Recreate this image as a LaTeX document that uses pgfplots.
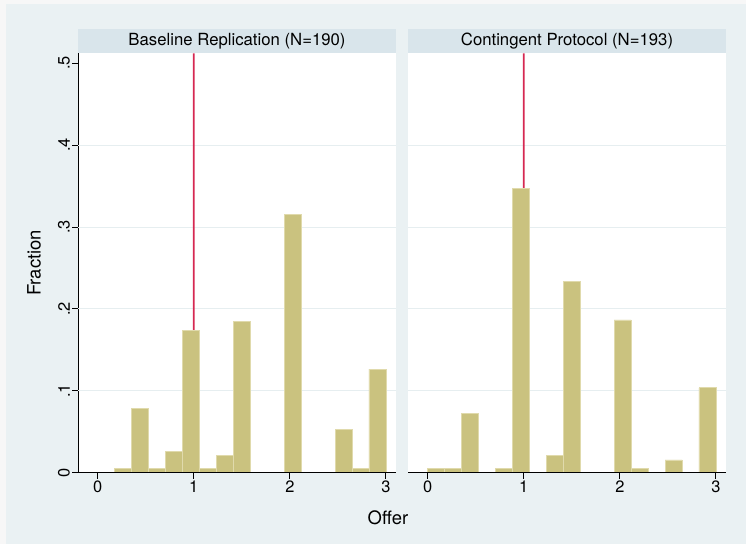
\documentclass[border=0pt]{standalone}
\usepackage{fontspec}
\setmainfont{TeX Gyre Heros}
\usepackage{pgfplots}
\pgfplotsset{compat=1.18}
\definecolor{bgout}{RGB}{247,247,247}
\definecolor{bg}{RGB}{234,241,243}
\definecolor{strip}{RGB}{217,229,235}
\definecolor{khaki}{RGB}{202,194,127}
\definecolor{khakiedge}{RGB}{224,218,172}
\definecolor{vred}{RGB}{214,40,82}
\definecolor{gridc}{RGB}{230,238,240}

\pgfplotsset{
  panel/.style={
    scale only axis, width=318bp, height=419.4bp,
    xmin=-0.205, xmax=3.105, ymin=0, ymax=0.512,
    axis background/.style={fill=white},
    xtick={0,1,2,3}, xticklabels={0,1,2,3},
    extra y ticks={0.1,0.2,0.3,0.4}, extra y tick labels={},
    extra y tick style={grid=major, major tick length=0pt},
    grid style={gridc, line width=0.9bp},
    tick align=outside, major tick length=6bp,
    every tick/.style={black, line width=0.9bp},
    axis line style={black, line width=0.9bp},
    axis x line*=bottom, axis y line*=left,
    tick label style={font=\fontsize{16.5}{18}\selectfont},
    xticklabel style={anchor=north, inner sep=2bp},
  },
  mybars/.style={ybar, bar width=0.17647, bar shift=0pt, fill=khaki, draw=khakiedge, line width=0.8bp},
}

\begin{document}
\begin{tikzpicture}
\fill[bgout] (0,0) rectangle (746bp,544bp);
\fill[bg] (6bp,0) rectangle (746bp,540bp);
% panel strips
\fill[strip] (78bp,490.7bp) rectangle (396bp,514.7bp);
\fill[strip] (408bp,490.7bp) rectangle (726bp,514.7bp);
\node[font=\fontsize{16.8}{19}\selectfont] at (237bp,502.7bp) {Baseline Replication (N=190)};
\node[font=\fontsize{16.8}{19}\selectfont] at (567bp,502.7bp) {Contingent Protocol (N=193)};
\node[font=\fontsize{18.5}{20}\selectfont, rotate=90] at (34bp,281bp) {Fraction};
\node[font=\fontsize{18.5}{20}\selectfont] at (388bp,26bp) {Offer};

\begin{axis}[panel, at={(78bp,71.3bp)}, anchor=south west,
  ytick={0,0.1,0.2,0.3,0.4,0.5}, yticklabels={0,.1,.2,.3,.4,.5},
  yticklabel style={rotate=90, anchor=south, inner sep=2bp}]
\addplot[vred, line width=1.7bp] coordinates {(0.9998,0) (1.0002,0.512)};
\addplot[mybars] coordinates {
(0.2647,0.005263) (0.4412,0.078947) (0.6176,0.005263) (0.7941,0.026316)
(0.9706,0.173684) (1.1471,0.005263) (1.3235,0.021053) (1.5,0.184211)
(2.0294,0.315789) (2.5588,0.052632) (2.7353,0.005263) (2.9118,0.126316)};
\draw[black, line width=0.9bp] (rel axis cs:0,0) -- (rel axis cs:1,0);
\end{axis}

\begin{axis}[panel, at={(408bp,71.3bp)}, anchor=south west,
  ytick=\empty, y axis line style={draw=none}]
\addplot[vred, line width=1.7bp] coordinates {(0.9998,0) (1.0002,0.512)};
\addplot[mybars] coordinates {
(0.0882,0.005181) (0.2647,0.005181) (0.4412,0.072539) (0.7941,0.005181)
(0.9706,0.347150) (1.3235,0.020725) (1.5,0.233161) (2.0294,0.186528)
(2.2059,0.005181) (2.5588,0.015544) (2.9118,0.103627)};
\draw[black, line width=0.9bp] (rel axis cs:0,0) -- (rel axis cs:1,0);
\end{axis}
\end{tikzpicture}
\end{document}
